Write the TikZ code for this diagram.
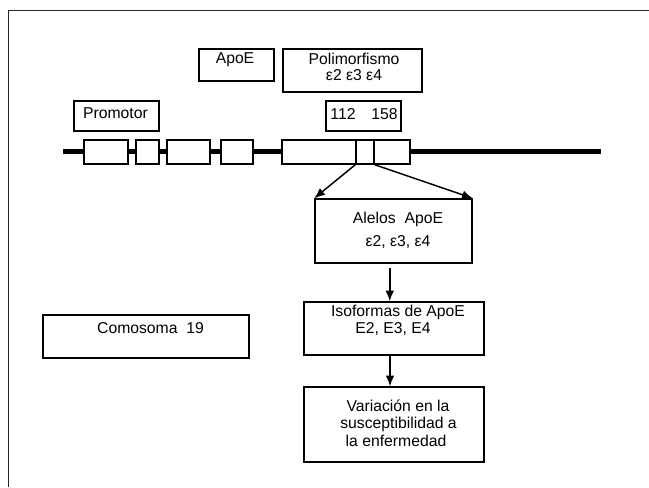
\documentclass[tikz,border=0pt]{standalone}
\usepackage{fontspec}
\setmainfont{Liberation Sans}
\usetikzlibrary{fit,arrows.meta}
\begin{document}
\begin{tikzpicture}[x=0.75pt,y=-0.75pt,
  box/.style={draw,line width=1.1pt,inner sep=0pt,fill=white},
  txt/.style={inner sep=0pt,anchor=base,font=\fontsize{11.8}{13}\selectfont},
  arr/.style={line width=1.1pt,-{Latex[length=8pt,width=6.5pt]}},
  frame/.style={line width=1.4pt,draw=black!85}]
\useasboundingbox (0,0) rectangle (649,487);
% frame
\coordinate (f1) at (8.5,487);
\coordinate (f2) at (8.5,10.5);
\coordinate (f3) at (649,10.5);
\draw[frame] (f1) -- (f2) -- (f3);
% top boxes
\node[box,fit={(199,49) (274,81)}] (apoe) {};
\node[txt] (apoeT) at (235,63) {ApoE};
\node[box,fit={(283,49) (422,92)}] (poli) {};
\node[txt] (poliT1) at (354,64) {Polimorfismo};
\node[txt] (poliT2) at (354,80) {ε2 ε3 ε4};
\node[box,fit={(74,101) (159,131)}] (prom) {};
\node[txt] (promT) at (115.5,118.7) {Promotor};
\node[box,fit={(326,101) (401,131)}] (pos) {};
\node[txt] (posT) at (364,119.3) {112\quad 158};
% chromosome line
\coordinate (cl) at (63,151.5);
\coordinate (cr) at (601,151.5);
\draw[line width=3.4pt] (cl) -- (cr);
\node[box,fit={(84,140) (128,164)}] (e1) {};
\node[box,fit={(136,140) (159,164)}] (e2) {};
\node[box,fit={(167,140) (210,164)}] (e3) {};
\node[box,fit={(221,140) (253,164)}] (e4) {};
\node[box,fit={(282,140) (356,164)}] (e5a) {};
\node[box,fit={(356,140) (374,164)}] (e5b) {};
\node[box,fit={(374,140) (410,164)}] (e5c) {};
% Alelos
\node[box,fit={(315,199) (472,263)}] (alel) {};
\node[txt] (alelT1) at (398,223) {Alelos\ \ ApoE};
\node[txt] (alelT2) at (398,246.5) {ε2, ε3, ε4};
% Isoformas
\node[box,fit={(304,302) (484,355)}] (iso) {};
\node[txt] (isoT1) at (398,316) {Isoformas de ApoE};
\node[txt] (isoT2) at (393,333.3) {E2, E3, E4};
% Variacion
\node[box,fit={(304,387) (484,462)}] (var) {};
\node[txt] (varT1) at (398,411) {Variación en la};
\node[txt] (varT2) at (398.5,428.5) {susceptibilidad a};
\node[txt] (varT3) at (396,446) {la enfermedad};
% Comosoma
\node[box,fit={(43,315) (249,358)}] (crom) {};
\node[txt] (cromT) at (150.5,333.3) {Comosoma\ \ 19};
% arrows
\draw[arr] (e5b.south west) -- (alel.north west);
\draw[arr] (e5b.south east) -- (alel.north east);
\draw[arr,shorten <=3pt] ([xshift=-2.8pt]alel.south) -- ([xshift=-2.8pt]alel.south |- iso.north);
\draw[arr] ([xshift=-3pt]iso.south) -- ([xshift=-3pt]var.north);
\end{tikzpicture}
\end{document}
